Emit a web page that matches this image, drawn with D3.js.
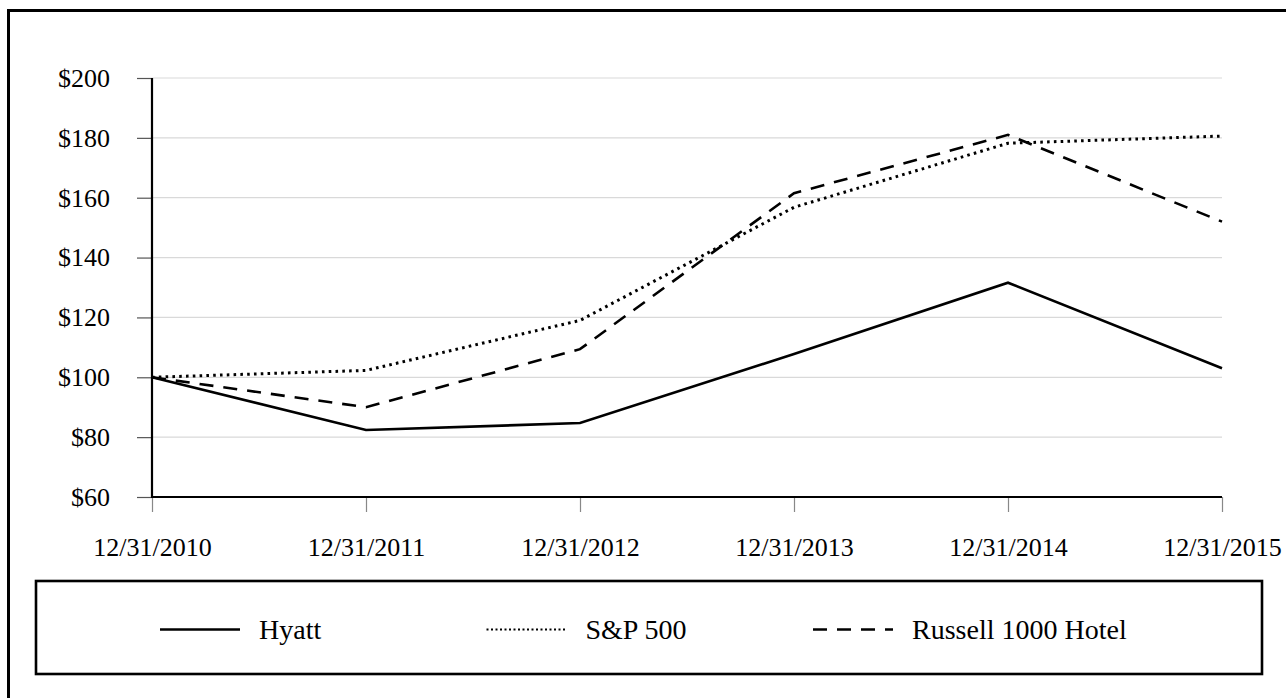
<!DOCTYPE html>
<html>
<head>
<meta charset="utf-8">
<script src="https://cdn.jsdelivr.net/npm/d3@7"></script>
<style>
  html, body { margin: 0; padding: 0; background: #fff; }
  svg { display: block; }
  text { font-family: "Liberation Serif", "Times New Roman", serif; fill: #000; }
</style>
</head>
<body>
<svg id="chart" width="1286" height="698"></svg>
<script>
const categories = ["12/31/2010", "12/31/2011", "12/31/2012", "12/31/2013", "12/31/2014", "12/31/2015"];
const hyatt   = [100, 82.4, 84.7, 107.8, 131.6, 103.0];
const sp500   = [100, 102.3, 119.0, 156.8, 178.2, 180.6];
const russell = [100, 90.0, 109.4, 161.5, 181.0, 152.0];
const yTicks  = [60, 80, 100, 120, 140, 160, 180, 200];
const seriesNames = ["Hyatt", "S&P 500", "Russell 1000 Hotel"];

const series = [
  { name: seriesNames[0], values: hyatt,   dash: null,    width: 2.6, cap: "butt" },
  { name: seriesNames[1], values: sp500,   dash: "2.6,4.2", width: 3, cap: "butt" },
  { name: seriesNames[2], values: russell, dash: "14,10", width: 2.6, cap: "butt" }
];

const svg = d3.select("#chart");
const W = 1286, H = 698;
const plot = { left: 152, right: 1222, top: 78, bottom: 497 };
const FONT = '"Liberation Serif", "Times New Roman", serif';

// outer frame (extends beyond right and bottom of the picture)
svg.append("rect")
  .attr("x", 8.5).attr("y", 10.5)
  .attr("width", W + 20).attr("height", H + 20)
  .attr("fill", "none").attr("stroke", "#000").attr("stroke-width", 3);

const x = d3.scalePoint().domain(categories).range([plot.left, plot.right]);
const y = d3.scaleLinear().domain([60, 200]).range([plot.bottom, plot.top]);

// gridlines
svg.append("g")
  .selectAll("line")
  .data(yTicks.filter(d => d > 60))
  .join("line")
  .attr("x1", plot.left).attr("x2", plot.right)
  .attr("y1", d => y(d)).attr("y2", d => y(d))
  .attr("stroke", "#d9d9d9").attr("stroke-width", 1.2);

// y axis
const yAxis = d3.axisLeft(y).tickValues(yTicks).tickSize(15).tickPadding(27)
  .tickFormat(d => "$" + d);
const gy = svg.append("g").attr("transform", `translate(${plot.left},0)`).call(yAxis);
gy.select(".domain").remove();
gy.selectAll(".tick line").attr("stroke", "#555").attr("stroke-width", 1.2);
gy.selectAll(".tick text")
  .style("font-family", FONT)
  .style("font-size", "26px").attr("fill", "#000");

// x axis
const xAxis = d3.axisBottom(x).tickSize(15).tickPadding(26);
const gx = svg.append("g").attr("transform", `translate(0,${plot.bottom})`).call(xAxis);
gx.select(".domain").remove();
gx.selectAll(".tick line").attr("stroke", "#888").attr("stroke-width", 1.2);
gx.selectAll(".tick text")
  .style("font-family", FONT)
  .style("font-size", "26px").attr("fill", "#000");

// axis lines
svg.append("line")
  .attr("x1", plot.left).attr("x2", plot.left)
  .attr("y1", plot.top).attr("y2", plot.bottom + 1)
  .attr("stroke", "#000").attr("stroke-width", 2.2);
svg.append("line")
  .attr("x1", plot.left - 1).attr("x2", plot.right)
  .attr("y1", plot.bottom).attr("y2", plot.bottom)
  .attr("stroke", "#000").attr("stroke-width", 2.2);

// lines
const line = d3.line().x((d, i) => x(categories[i])).y(d => y(d));
svg.append("g")
  .selectAll("path")
  .data(series)
  .join("path")
  .attr("d", d => line(d.values))
  .attr("fill", "none")
  .attr("stroke", "#000")
  .attr("stroke-width", d => d.width)
  .attr("stroke-linecap", d => d.cap)
  .attr("stroke-linejoin", "miter")
  .attr("stroke-dasharray", d => d.dash);

// legend
const legend = { x: 36, y: 581, w: 1226, h: 93 };
svg.append("rect")
  .attr("x", legend.x).attr("y", legend.y)
  .attr("width", legend.w).attr("height", legend.h)
  .attr("fill", "#fff").attr("stroke", "#000").attr("stroke-width", 2.6);

const legendX = d3.scalePoint().domain(seriesNames).range([160, 813]);
const legendY = legend.y + legend.h / 2 + 2;
const lg = svg.append("g").selectAll("g").data(series).join("g")
  .attr("transform", d => `translate(${legendX(d.name)},${legendY})`);
lg.append("line")
  .attr("x1", 0).attr("x2", 80).attr("y1", 0).attr("y2", 0)
  .attr("stroke", "#000")
  .attr("stroke-width", d => d.name === "S&P 500" ? 2 : 2.6)
  .attr("stroke-dasharray", d => d.name === "S&P 500" ? "2,2.5" : d.dash);
lg.append("text")
  .attr("x", 99).attr("y", 0).attr("dy", "0.35em")
  .style("font-family", FONT)
  .style("font-size", "28px")
  .text(d => d.name);
</script>
</body>
</html>
